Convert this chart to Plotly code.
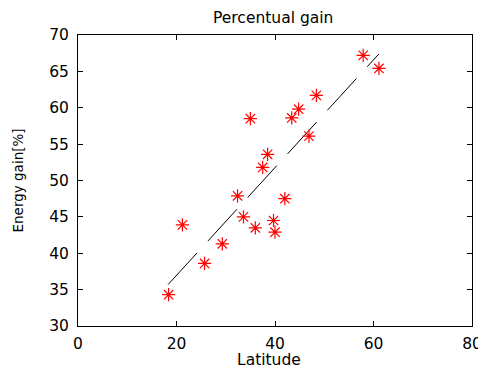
import plotly.graph_objects as go

latitude = [18.4, 21.2, 25.7, 29.3, 32.4, 33.6, 35.0, 36.0, 37.5, 38.5,
            39.7, 40.0, 42.0, 43.4, 44.8, 46.9, 48.4, 57.9, 61.1]
energy_gain = [34.3, 43.9, 38.6, 41.3, 47.9, 45.0, 58.5, 43.5, 51.8, 53.6,
               44.5, 42.9, 47.5, 58.6, 59.8, 56.1, 61.7, 67.2, 65.4]
fit_x = [18.3, 61.1]
fit_y = [35.7, 67.4]

x_ticks = [0, 20, 40, 60, 80]
y_ticks = [30, 35, 40, 45, 50, 55, 60, 65, 70]

font = "DejaVu Sans, Liberation Sans, Arial, sans-serif"

fig = go.Figure()
fig.add_trace(go.Scatter(
    x=fit_x, y=fit_y, mode="lines",
    line=dict(color="black", width=1, dash="43px,16px"),
    showlegend=False, hoverinfo="skip"))
fig.add_trace(go.Scatter(
    x=latitude, y=energy_gain, mode="markers",
    marker=dict(symbol="asterisk-open", size=11, color="red",
                line=dict(color="red", width=1.2)),
    showlegend=False))

axis_common = dict(
    showgrid=False, zeroline=False, showline=True, linecolor="black",
    linewidth=1, mirror="ticks", ticks="inside", ticklen=5,
    tickcolor="black", automargin=False,
    tickfont=dict(family=font, size=15.5, color="black"),
)

fig.update_layout(
    width=478, height=362,
    margin=dict(l=70, r=14, t=27, b=44),
    paper_bgcolor="white", plot_bgcolor="white",
    xaxis=dict(range=[0, 80], tickvals=x_ticks, ticklabelstandoff=3,
               **axis_common),
    yaxis=dict(range=[30, 70], tickvals=y_ticks, ticklabelstandoff=5,
               **axis_common),
    annotations=[
        dict(text="Percentual gain", xref="paper", yref="paper",
             x=0.5, y=1, xshift=-2, yshift=17, xanchor="center",
             yanchor="middle", showarrow=False,
             font=dict(family=font, size=15.5, color="black")),
        dict(text="Latitude", xref="paper", yref="paper",
             x=0.5, y=0, xshift=-6, yshift=-34, xanchor="center",
             yanchor="middle", showarrow=False,
             font=dict(family=font, size=15.5, color="black")),
        dict(text="Energy gain[%]", xref="paper", yref="paper",
             x=0, y=0.5, xshift=-61, yshift=0, xanchor="center",
             yanchor="middle", textangle=-90, showarrow=False,
             font=dict(family=font, size=13.5, color="black")),
    ],
)

fig.write_html("out.html")
